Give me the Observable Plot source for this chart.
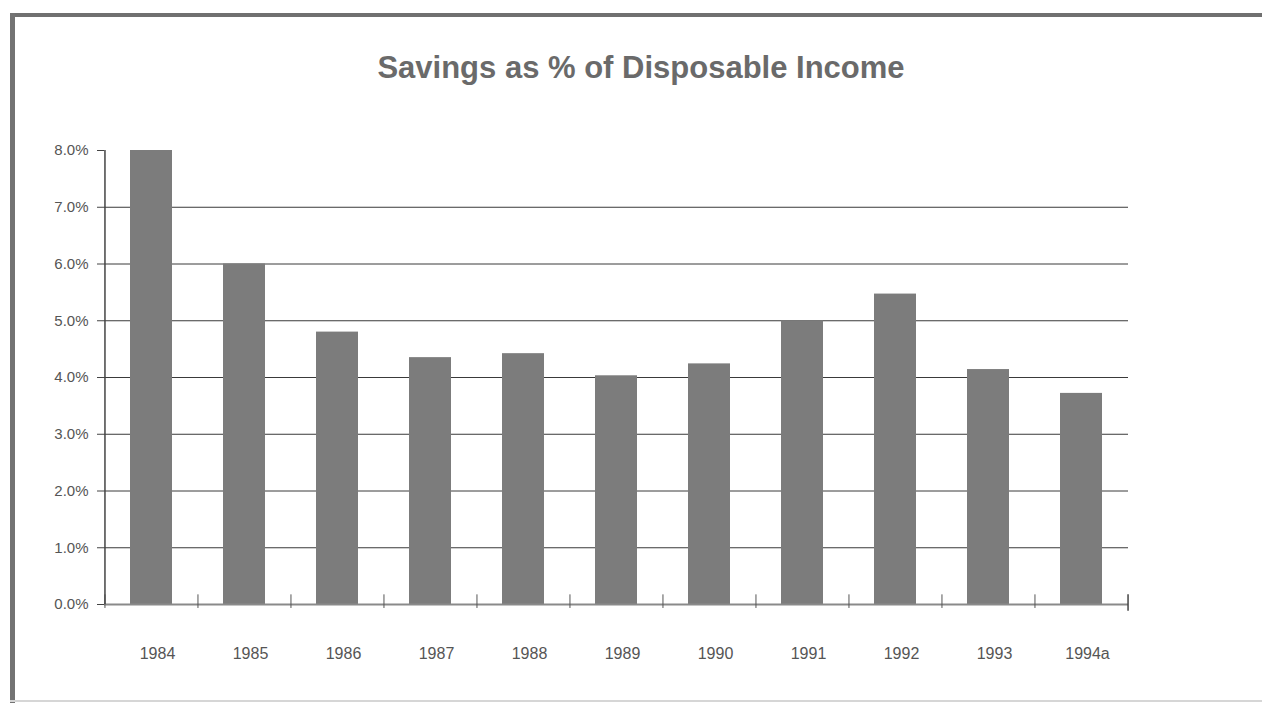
<!DOCTYPE html>
<html>
<head>
<meta charset="utf-8">
<script src="https://cdn.jsdelivr.net/npm/d3@7"></script>
<script src="https://cdn.jsdelivr.net/npm/@observablehq/plot@0.6"></script>
<style>
  html, body { margin: 0; padding: 0; background: #fff; }
  #page { position: relative; width: 1262px; height: 703px; overflow: hidden; font-family: "Liberation Sans", Arial, sans-serif; }
  #frameTop { position: absolute; left: 10px; top: 13px; width: 1252px; height: 4px; background: #707070; }
  #frameLeft { position: absolute; left: 10px; top: 13px; width: 5px; height: 690px; background: #737373; }
  #frameBottom { position: absolute; left: 10px; top: 700px; width: 1252px; height: 2px; background: #d6d6d6; }
  #title { position: absolute; left: 0; top: 50px; width: 1282px; text-align: center; font-size: 31px; line-height: 36px; font-weight: bold; color: #6a6a6a; }
  #chart { position: absolute; left: 0; top: 130px; }
</style>
</head>
<body>
<div id="page">
  <div id="frameTop"></div>
  <div id="frameLeft"></div>
  <div id="frameBottom"></div>
  <div id="title">Savings as % of Disposable Income</div>
  <div id="chart"></div>
</div>
<script>
const years = ["1984", "1985", "1986", "1987", "1988", "1989", "1990", "1991", "1992", "1993", "1994a"];
const savings = [8.0, 6.0, 4.8, 4.35, 4.42, 4.03, 4.24, 5.0, 5.47, 4.14, 3.72];
const yTicks = [0, 1, 2, 3, 4, 5, 6, 7, 8];
const gridTicks = [1, 2, 3, 4, 5, 6, 7];

const data = years.map((y, i) => ({year: y, value: savings[i]}));

const W = 1262, H = 573;
const mL = 104, mR = 134, mT = 20, mB = 99;
const step = (W - mL - mR) / years.length;

const chart = Plot.plot({
  width: W,
  height: H,
  marginLeft: mL,
  marginRight: mR,
  marginTop: mT,
  marginBottom: mB,
  style: { fontFamily: "'Liberation Sans', Arial, sans-serif", background: "transparent", overflow: "visible" },
  x: { type: "band", domain: years, paddingInner: 0.55, paddingOuter: 0.275, align: 0.5 },
  y: { domain: [0, 8] },
  marks: [
    Plot.ruleY(gridTicks, { stroke: "#3a3a3a", strokeWidth: 1 }),
    Plot.barY(data, { x: "year", y: "value", fill: "#7c7c7c" }),
    Plot.ruleY([0], { stroke: "#8a8a8a", strokeWidth: 2 }),
    Plot.ruleX(years, { x: d => d, dx: -step / 2, y1: -0.07, y2: 0.17, stroke: "#555", strokeWidth: 1 }),
    Plot.ruleX([years[years.length - 1]], { x: d => d, dx: step / 2, y1: -0.12, y2: 0.17, stroke: "#444", strokeWidth: 1.5 }),
    Plot.ruleX([years[0]], { x: d => d, dx: -step / 2, y1: 0, y2: 8, stroke: "#444", strokeWidth: 1.5 }),
    Plot.axisY({ ticks: yTicks, tickFormat: d => d.toFixed(1) + "%", tickSize: 7, tickPadding: 9, fontSize: 15, color: "#555", stroke: "#444", label: null }),
    Plot.axisX({ tickSize: 0, tickPadding: 43, fontSize: 16, color: "#555", label: null, dx: 6 })
  ]
});
document.getElementById("chart").appendChild(chart);
</script>
</body>
</html>
